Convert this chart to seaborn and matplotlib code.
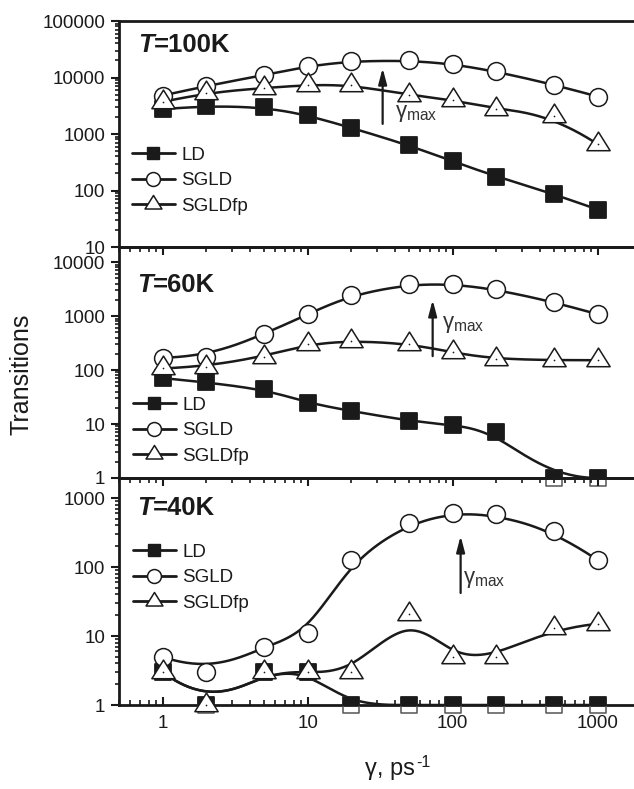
import numpy as np
import pandas as pd
import matplotlib
matplotlib.use("Agg")
import matplotlib.pyplot as plt
from matplotlib.path import Path
from matplotlib.lines import Line2D
from matplotlib.ticker import LogLocator, FuncFormatter, NullFormatter
import seaborn as sns

# friction coefficient (ps^-1)
gamma = [1, 2, 5, 10, 20, 50, 100, 200, 500, 1000]

# number of transitions, T = 100 K
ld_100 = [2750, 3170, 3030, 2140, 1290, 630, 330, 175, 87, 46]
sgld_100 = [4800, 7100, 11000, 15800, 19500, 20000, 17300, 12800, 7500, 4600]
sgldfp_100 = [3700, 5400, 6500, 7400, 7400, 4900, 4000, 2770, 2100, 660]

# number of transitions, T = 60 K
ld_60 = [71, 59, 45, 24.5, 17.4, 11.4, 9.6, 7.2, 1, 1]
sgld_60 = [169, 176, 458, 1080, 2460, 3880, 3880, 3140, 1820, 1080]
sgldfp_60 = [107, 116, 178, 298, 349, 307, 212, 157, 152, 152]

# number of transitions, T = 40 K
ld_40 = [3, 1, 3, 3, 1, 1, 1, 1, 1, 1]
sgld_40 = [5, 3, 7, 11, 126, 428, 600, 580, 335, 126]
sgldfp_40 = [3, 1, 3, 3, 3, 21, 5, 5, 13, 15]

series_names = ["LD", "SGLD", "SGLDfp"]
temperatures = ["100K", "60K", "40K"]

sns.set_style("white")
plt.rcParams.update({
    "font.family": ["Liberation Sans", "DejaVu Sans"],
    "mathtext.fontset": "custom",
    "mathtext.rm": "Liberation Sans",
    "mathtext.it": "Liberation Sans:italic",
    "mathtext.bf": "Liberation Sans:bold",
    "mathtext.default": "regular",
    "axes.edgecolor": "#1a1a1a",
    "axes.linewidth": 2.0,
    "text.color": "#1a1a1a",
    "xtick.color": "#1a1a1a",
    "ytick.color": "#1a1a1a",
    "axes.facecolor": "none",
    "figure.facecolor": "white",
})

INK = "#1a1a1a"


def bspline_curve(xs, ys, n=400, k=3):
    """Clamped cubic B-spline using the points as control points (log-log space)."""
    px = np.log10(np.asarray(xs, float))
    py = np.log10(np.asarray(ys, float))
    m = len(px)
    knots = np.concatenate([np.zeros(k), np.arange(m - k + 1), np.full(k, m - k)]).astype(float)
    t = np.linspace(0, m - k, n)
    t[-1] -= 1e-9
    nb = len(knots) - 1
    N = np.zeros((n, nb))
    for i in range(nb):
        N[:, i] = (knots[i] <= t) & (t < knots[i + 1])
    for p in range(1, k + 1):
        Nn = np.zeros((n, nb - p))
        for i in range(nb - p):
            d1 = knots[i + p] - knots[i]
            d2 = knots[i + p + 1] - knots[i + 1]
            a = (t - knots[i]) / d1 * N[:, i] if d1 > 0 else 0.0
            b = (knots[i + p + 1] - t) / d2 * N[:, i + 1] if d2 > 0 else 0.0
            Nn[:, i] = a + b
        N = Nn
    return 10 ** (N @ px), 10 ** (N @ py)


# open triangle centred on its centroid
tri = Path([(0, 1.0667), (-1, -0.5333), (1, -0.5333), (0, 1.0667)],
           [Path.MOVETO, Path.LINETO, Path.LINETO, Path.CLOSEPOLY])

W, H = 634, 789
fig = plt.figure(figsize=(W / 100, H / 100), dpi=100)

left_px, right_px = 119, 634
panel_px = [(21, 247), (247, 478), (478, 705)]
ylims = [(10, 1e5), (1, 19000), (1, 1950)]
data = [(ld_100, sgld_100, sgldfp_100), (ld_60, sgld_60, sgldfp_60), (ld_40, sgld_40, sgldfp_40)]
legend_anchor = [(0.025, 0.445), (0.027, 0.352), (0.027, 0.712)]
title_pos = [(0.037, 0.863), (0.035, 0.805), (0.035, 0.837)]
arrow_x = [32.9, 72.8, 113.5]
arrow_y = [(1510, 14700), (181, 1990), (42, 282)]
gmax_pos = [(39.8, 2350), (85, 700), (117, 65)]

xmin = 0.5
xmax = xmin * 10 ** ((right_px - left_px) / 145.0)

axes = []
for idx, (top, bot) in enumerate(panel_px):
    ax = fig.add_axes([left_px / W, (H - bot) / H, (right_px - left_px) / W, (bot - top) / H])
    axes.append(ax)
    ax.set_xscale("log")
    ax.set_yscale("log")
    ax.set_xlim(xmin, xmax)
    ax.set_ylim(*ylims[idx])
    ax.spines["right"].set_visible(False)

    ld, sgld, fp = data[idx]

    # smooth connecting curves
    for vals in (ld, sgld, fp):
        cx, cy = bspline_curve(gamma, vals)
        sns.lineplot(x=cx, y=cy, ax=ax, color=INK, linewidth=1.8,
                     estimator=None, sort=False, zorder=2, legend=False)

    # LD: outline unclipped, filled part clipped to the panel
    sns.scatterplot(x=gamma, y=ld, ax=ax, marker="s", s=132, color="none",
                    edgecolor="#555555", linewidth=1.1, zorder=3, clip_on=False, legend=False)
    sns.scatterplot(x=gamma, y=ld, ax=ax, marker="s", s=132, color=INK,
                    edgecolor=INK, linewidth=1.1, zorder=3.1, legend=False)
    # SGLD circles
    sns.scatterplot(x=gamma, y=sgld, ax=ax, marker="o", s=165, color="white",
                    edgecolor=INK, linewidth=1.1, zorder=4, clip_on=False, legend=False)
    # SGLDfp triangles with centre dot
    sns.scatterplot(x=gamma, y=fp, ax=ax, marker=tri, s=320, color="white",
                    edgecolor=INK, linewidth=1.1, zorder=5, clip_on=False, legend=False)
    sns.scatterplot(x=gamma, y=fp, ax=ax, marker="o", s=1.5, color=INK,
                    linewidth=0, zorder=5.1, clip_on=False, legend=False)

    # axis ticks
    ax.yaxis.set_major_locator(LogLocator(base=10, numticks=12))
    ax.yaxis.set_minor_locator(LogLocator(base=10, subs=np.arange(2, 10), numticks=12))
    ax.yaxis.set_major_formatter(FuncFormatter(lambda v, p: f"{int(round(v))}"))
    ax.yaxis.set_minor_formatter(NullFormatter())
    ax.xaxis.set_major_locator(LogLocator(base=10, numticks=12))
    ax.xaxis.set_minor_locator(LogLocator(base=10, subs=np.arange(2, 10), numticks=12))
    ax.xaxis.set_major_formatter(FuncFormatter(lambda v, p: f"{int(round(v))}"))
    ax.xaxis.set_minor_formatter(NullFormatter())

    ax.tick_params(axis="y", which="major", direction="out", length=6, width=1.5,
                   labelsize=13.5, pad=4, left=True, right=False)
    ax.tick_params(axis="y", which="minor", direction="out", length=3, width=1.2,
                   left=True, right=False)
    show_top = idx > 0
    show_bottom = idx == 2
    ax.tick_params(axis="x", which="major", direction="in", length=6, width=1.5,
                   top=show_top, bottom=show_bottom, labelbottom=show_bottom,
                   labeltop=False, labelsize=13.5, pad=7)
    ax.tick_params(axis="x", which="minor", direction="in", length=3.5, width=1.2,
                   top=show_top, bottom=show_bottom)
    ax.set_xlabel("")
    ax.set_ylabel("")

    # panel title
    tx, ty = title_pos[idx]
    t_art = ax.text(tx, ty, "T", transform=ax.transAxes, fontsize=18.5,
                    fontstyle="italic", fontweight="bold", va="baseline", ha="left")
    ax.annotate("=" + temperatures[idx], xy=(1, 0), xycoords=t_art, fontsize=18.5,
                fontweight="bold", va="bottom", ha="left")

    # gamma_max arrow
    ax.annotate("", xy=(arrow_x[idx], arrow_y[idx][1]), xytext=(arrow_x[idx], arrow_y[idx][0]),
                arrowprops=dict(arrowstyle="-|>,head_length=0.95,head_width=0.25",
                                color=INK, lw=1.6, shrinkA=0, shrinkB=0))
    gx, gy = gmax_pos[idx]
    ax.text(gx, gy, "γ$_{max}$", fontsize=16, color="#333333", va="center", ha="left")

    # legend
    handles = [
        Line2D([], [], color=INK, lw=2.0, marker="s", ms=9, mfc=INK, mec=INK),
        Line2D([], [], color=INK, lw=2.0, marker="o", ms=10, mfc="white", mec=INK, mew=1.1),
        Line2D([], [], color=INK, lw=2.0, marker=tri, ms=13, mfc="white", mec=INK, mew=1.1),
    ]
    ax.legend(handles, series_names, loc="upper left", bbox_to_anchor=legend_anchor[idx],
              frameon=False, fontsize=13.5, handlelength=2.3, handletextpad=0.35,
              labelspacing=0.45, borderpad=0, borderaxespad=0)

fig.text(22 / W, (H - 374) / H, "Transitions", rotation=90, fontsize=18,
         ha="center", va="center")
xl = fig.text(390 / W, (H - 775) / H, "γ, ps", fontsize=17, ha="center", va="baseline")
axes[-1].annotate("-1", xy=(1, 1), xycoords=xl, xytext=(1, 2), textcoords="offset points",
                  fontsize=11.5, ha="left", va="top", annotation_clip=False)

fig.savefig("out.png", dpi=100)
